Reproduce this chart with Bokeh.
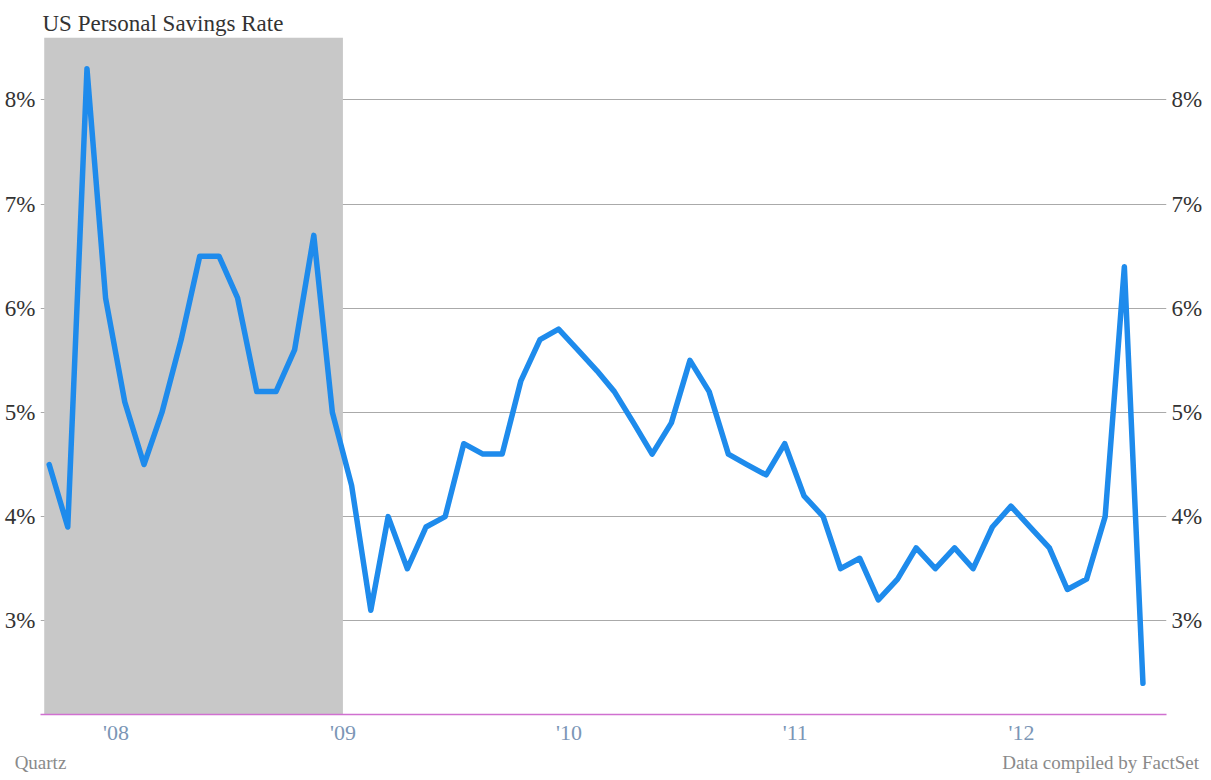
import pandas as pd
from bokeh.plotting import figure
from bokeh.models import (Range1d, LinearAxis, FixedTicker, DatetimeTickFormatter,
                          PrintfTickFormatter)
from bokeh.embed import file_html
from bokeh.resources import INLINE

# ---- data ----
first_month = "2007-09-01"
savings_rate = [4.5, 3.9, 8.3, 6.1, 5.1, 4.5, 5.0, 5.7, 6.5, 6.5,
                6.1, 5.2, 5.2, 5.6, 6.7, 5.0, 4.3, 3.1, 4.0, 3.5,
                3.9, 4.0, 4.7, 4.6, 4.6, 5.3, 5.7, 5.8, 5.6, 5.4,
                5.2, 4.9, 4.6, 4.9, 5.5, 5.2, 4.6, 4.5, 4.4, 4.7,
                4.2, 4.0, 3.5, 3.6, 3.2, 3.4, 3.7, 3.5, 3.7, 3.5,
                3.9, 4.1, 3.9, 3.7, 3.3, 3.4, 4.0, 6.4, 2.4]
year_ticks = ["2008-01-01", "2009-01-01", "2010-01-01", "2011-01-01", "2012-01-01"]
y_ticks = [3, 4, 5, 6, 7, 8]
recession = ("2007-09-07", "2009-01-01")
x_start, x_end = "2007-09-01", "2012-08-22"
y_min, y_max = 2.1, 8.6
title_text = "US Personal Savings Rate"
source_left = "Quartz"
source_right = "Data compiled by FactSet"

dates = pd.date_range(first_month, periods=len(savings_rate), freq="MS") + pd.Timedelta(days=14)


def ms(s):
    return pd.Timestamp(s).value / 1e6


FONT = "Liberation Serif"
W = 1205
FRAME_L, FRAME_R = 40, 1168

p = figure(width=W, height=778, x_axis_type="datetime",
           x_range=Range1d(ms(x_start), ms(x_end)), y_range=Range1d(y_min, y_max),
           output_backend="svg", toolbar_location=None,
           min_border_left=FRAME_L, min_border_right=W - FRAME_R,
           min_border_top=37, min_border_bottom=64)
p.outline_line_color = None
p.background_fill_color = "white"
p.border_fill_color = "white"

p.title.text = title_text
p.title.text_font = FONT
p.title.text_font_size = "23px"
p.title.text_font_style = "normal"
p.title.text_color = "#333333"
p.title.align = "left"
p.title.offset = 2
p.title.standoff = 3

# recession shading (a glyph, so it covers the grid lines)
p.quad(left=[ms(recession[0])], right=[ms(recession[1])], bottom=[y_min], top=[y_max],
       fill_color="#c8c8c8", line_color=None)

p.line(dates, savings_rate, line_color="#1e8bec", line_width=5.5,
       line_join="round", line_cap="round")

# grid
p.xgrid.visible = False
p.ygrid.ticker = FixedTicker(ticks=y_ticks)
p.ygrid.grid_line_color = "#aaaaaa"
p.ygrid.grid_line_width = 1


def no_ticks(ax):
    ax.major_tick_line_color = None
    ax.minor_tick_line_color = None
    ax.major_tick_out = 0
    ax.major_tick_in = 0
    ax.minor_tick_out = 0
    ax.minor_tick_in = 0


# x axis
xa = p.xaxis[0]
xa.ticker = FixedTicker(ticks=[ms(t) for t in year_ticks])
fmt = "'%y"
xa.formatter = DatetimeTickFormatter(microseconds=fmt, milliseconds=fmt, seconds=fmt, minsec=fmt,
                                     minutes=fmt, hourmin=fmt, hours=fmt, days=fmt,
                                     months=fmt, years=fmt)
xa.axis_line_color = "#d070d0"
xa.axis_line_width = 1.5
no_ticks(xa)
xa.major_label_text_font = FONT
xa.major_label_text_font_size = "22px"
xa.major_label_text_color = "#7b96b6"
xa.major_label_standoff = 5


def style_y(ax):
    ax.ticker = FixedTicker(ticks=y_ticks)
    ax.formatter = PrintfTickFormatter(format="%d%%")
    ax.axis_line_color = None
    no_ticks(ax)
    ax.major_label_text_font = FONT
    ax.major_label_text_font_size = "23px"
    ax.major_label_text_color = "#333333"
    ax.major_label_standoff = 5


style_y(p.yaxis[0])
ry = LinearAxis()
style_y(ry)
p.add_layout(ry, "right")

# source notes: a second bottom axis measured in frame pixels
p.extra_x_ranges = {"page": Range1d(FRAME_L, FRAME_R)}
note_pos = [FRAME_L, 1102]
src = LinearAxis(x_range_name="page", ticker=FixedTicker(ticks=note_pos),
                 major_label_overrides={note_pos[0]: source_left, note_pos[1]: source_right})
src.axis_line_color = None
no_ticks(src)
src.major_label_text_font = FONT
src.major_label_text_font_size = "19px"
src.major_label_text_color = "#8a8a8a"
src.major_label_standoff = 4
p.add_layout(src, "below")

open("out.html", "w").write(file_html(p, INLINE))
